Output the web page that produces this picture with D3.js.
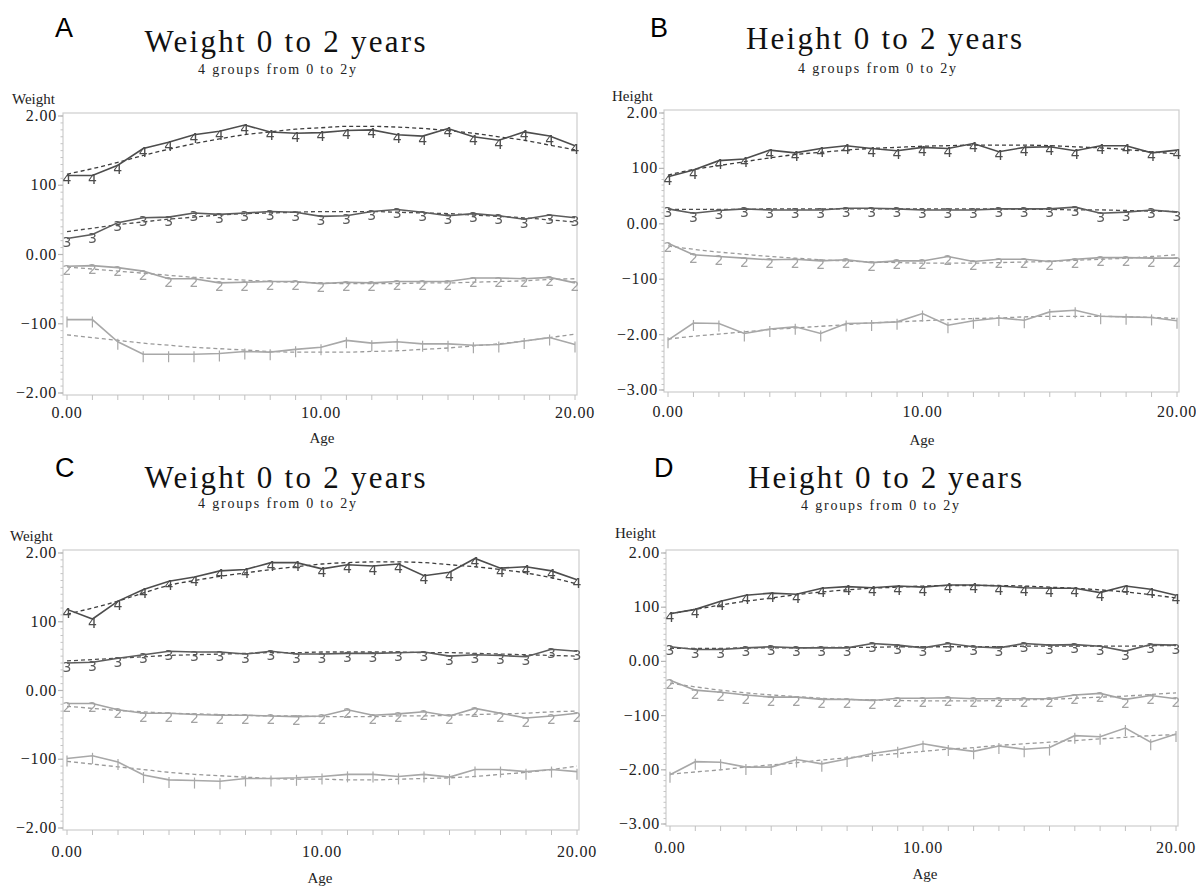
<!DOCTYPE html>
<html><head><meta charset="utf-8">
<script src="https://cdn.jsdelivr.net/npm/d3@7"></script>
<style>
body{margin:0;background:#fff}
svg{display:block}
.serif{font-family:"Liberation Serif","Times New Roman","DejaVu Serif","Noto Serif",serif}
.sans{font-family:"Liberation Sans",Arial,"DejaVu Sans",sans-serif}
.mk{font-family:"DejaVu Sans","Liberation Sans",sans-serif}
.aa{will-change:transform}
</style>
</head><body>
<svg id="chart" width="1196" height="886"></svg>
<script>
// ---- data ----
const ages = [0,1,2,3,4,5,6,7,8,9,10,11,12,13,14,15,16,17,18,19,20];
const xTickValues = [0,10,20];
const xTickLabels = ["0.00","10.00","20.00"];
const groupNames = ["4","3","2","1"];

// Panel A (weight)
const aObs4 = [1.14,1.14,1.29,1.53,1.62,1.73,1.78,1.87,1.77,1.75,1.76,1.79,1.80,1.73,1.71,1.82,1.70,1.65,1.77,1.71,1.57];
const aObs3 = [0.23,0.29,0.46,0.53,0.54,0.60,0.58,0.60,0.62,0.61,0.55,0.56,0.62,0.65,0.61,0.56,0.59,0.56,0.51,0.57,0.53];
const aObs2 = [-0.17,-0.16,-0.19,-0.24,-0.35,-0.35,-0.41,-0.40,-0.39,-0.39,-0.42,-0.40,-0.41,-0.39,-0.39,-0.39,-0.34,-0.34,-0.35,-0.33,-0.41];
const aObs1 = [-0.94,-0.94,-1.26,-1.44,-1.44,-1.44,-1.43,-1.40,-1.41,-1.37,-1.34,-1.24,-1.28,-1.26,-1.29,-1.29,-1.31,-1.30,-1.25,-1.20,-1.30];
const aFit4 = [1.16,1.24,1.33,1.43,1.52,1.60,1.67,1.73,1.77,1.81,1.83,1.85,1.85,1.84,1.82,1.79,1.75,1.70,1.65,1.58,1.51];
const aFit3 = [0.33,0.38,0.43,0.47,0.51,0.54,0.57,0.59,0.60,0.61,0.62,0.62,0.62,0.61,0.60,0.59,0.57,0.55,0.53,0.50,0.47];
const aFit2 = [-0.18,-0.21,-0.24,-0.27,-0.30,-0.33,-0.35,-0.37,-0.39,-0.40,-0.41,-0.42,-0.42,-0.42,-0.41,-0.41,-0.40,-0.39,-0.38,-0.36,-0.35];
const aFit1 = [-1.16,-1.20,-1.24,-1.28,-1.31,-1.34,-1.36,-1.38,-1.40,-1.41,-1.41,-1.41,-1.40,-1.39,-1.37,-1.35,-1.32,-1.29,-1.25,-1.20,-1.15];

// Panel B (height)
const bObs4 = [0.85,0.97,1.14,1.17,1.33,1.28,1.36,1.41,1.36,1.32,1.38,1.36,1.45,1.30,1.38,1.39,1.32,1.41,1.41,1.28,1.33];
const bObs3 = [0.27,0.19,0.24,0.27,0.25,0.25,0.25,0.28,0.28,0.27,0.25,0.25,0.25,0.27,0.27,0.27,0.30,0.19,0.21,0.25,0.21];
const bObs2 = [-0.35,-0.56,-0.59,-0.62,-0.65,-0.64,-0.67,-0.65,-0.70,-0.67,-0.67,-0.59,-0.68,-0.64,-0.64,-0.68,-0.64,-0.61,-0.61,-0.62,-0.62];
const bObs1 = [-2.10,-1.79,-1.80,-1.98,-1.90,-1.86,-1.98,-1.80,-1.79,-1.77,-1.62,-1.83,-1.75,-1.70,-1.74,-1.59,-1.56,-1.67,-1.68,-1.69,-1.75];
const bFit4 = [0.88,0.98,1.05,1.12,1.19,1.25,1.29,1.33,1.36,1.38,1.40,1.41,1.42,1.42,1.42,1.41,1.39,1.37,1.34,1.30,1.26];
const bFit3 = [0.26,0.26,0.26,0.26,0.27,0.27,0.27,0.27,0.27,0.27,0.27,0.27,0.27,0.27,0.26,0.26,0.25,0.25,0.24,0.23,0.22];
const bFit2 = [-0.40,-0.46,-0.51,-0.55,-0.59,-0.62,-0.65,-0.67,-0.69,-0.70,-0.71,-0.71,-0.71,-0.70,-0.69,-0.68,-0.66,-0.64,-0.62,-0.59,-0.56];
const bFit1 = [-2.08,-2.03,-1.99,-1.95,-1.91,-1.88,-1.85,-1.82,-1.79,-1.77,-1.75,-1.73,-1.71,-1.70,-1.68,-1.67,-1.67,-1.67,-1.68,-1.69,-1.71];

// Panel C (weight)
const cObs4 = [1.18,1.04,1.30,1.47,1.59,1.65,1.74,1.76,1.86,1.86,1.77,1.83,1.81,1.84,1.67,1.72,1.92,1.78,1.80,1.74,1.61];
const cObs3 = [0.40,0.41,0.47,0.52,0.57,0.56,0.56,0.53,0.57,0.53,0.53,0.54,0.54,0.55,0.56,0.50,0.52,0.51,0.49,0.60,0.57];
const cObs2 = [-0.19,-0.19,-0.28,-0.33,-0.33,-0.35,-0.36,-0.36,-0.37,-0.38,-0.37,-0.28,-0.36,-0.34,-0.31,-0.37,-0.26,-0.33,-0.40,-0.37,-0.33];
const cObs1 = [-0.99,-0.95,-1.04,-1.23,-1.30,-1.31,-1.32,-1.28,-1.28,-1.27,-1.25,-1.22,-1.22,-1.25,-1.22,-1.26,-1.15,-1.15,-1.18,-1.15,-1.18];
const cFit4 = [1.11,1.20,1.30,1.42,1.53,1.60,1.66,1.71,1.76,1.80,1.84,1.86,1.87,1.87,1.86,1.83,1.80,1.76,1.71,1.64,1.55];
const cFit3 = [0.43,0.45,0.47,0.49,0.51,0.52,0.53,0.54,0.55,0.55,0.56,0.56,0.56,0.56,0.55,0.55,0.54,0.53,0.52,0.51,0.50];
const cFit2 = [-0.23,-0.26,-0.29,-0.31,-0.33,-0.34,-0.35,-0.36,-0.37,-0.37,-0.38,-0.38,-0.38,-0.37,-0.37,-0.36,-0.35,-0.34,-0.33,-0.31,-0.30];
const cFit1 = [-1.03,-1.07,-1.11,-1.15,-1.19,-1.22,-1.24,-1.26,-1.28,-1.29,-1.29,-1.30,-1.30,-1.29,-1.28,-1.27,-1.25,-1.22,-1.19,-1.15,-1.10];

// Panel D (height)
const dObs4 = [0.88,0.96,1.11,1.22,1.26,1.24,1.35,1.38,1.36,1.39,1.37,1.41,1.41,1.39,1.36,1.35,1.35,1.27,1.39,1.33,1.22];
const dObs3 = [0.27,0.22,0.22,0.25,0.27,0.25,0.25,0.25,0.33,0.30,0.25,0.33,0.27,0.25,0.33,0.30,0.31,0.28,0.19,0.31,0.30];
const dObs2 = [-0.35,-0.53,-0.57,-0.62,-0.66,-0.66,-0.70,-0.70,-0.72,-0.68,-0.68,-0.67,-0.69,-0.69,-0.69,-0.69,-0.62,-0.59,-0.70,-0.63,-0.69];
const dObs1 = [-2.09,-1.85,-1.86,-1.95,-1.95,-1.81,-1.89,-1.80,-1.70,-1.63,-1.52,-1.60,-1.66,-1.56,-1.62,-1.59,-1.37,-1.39,-1.23,-1.49,-1.34];
const dFit4 = [0.88,0.96,1.04,1.11,1.17,1.23,1.28,1.32,1.35,1.37,1.39,1.40,1.40,1.40,1.39,1.37,1.35,1.32,1.28,1.23,1.17];
const dFit3 = [0.24,0.24,0.24,0.25,0.25,0.25,0.26,0.26,0.26,0.27,0.27,0.27,0.27,0.27,0.28,0.28,0.28,0.28,0.28,0.29,0.29];
const dFit2 = [-0.40,-0.47,-0.53,-0.58,-0.62,-0.65,-0.68,-0.70,-0.71,-0.72,-0.73,-0.73,-0.73,-0.72,-0.71,-0.70,-0.68,-0.66,-0.64,-0.61,-0.58];
const dFit1 = [-2.08,-2.04,-2.00,-1.95,-1.91,-1.87,-1.82,-1.78,-1.74,-1.70,-1.66,-1.62,-1.59,-1.55,-1.52,-1.49,-1.46,-1.43,-1.40,-1.37,-1.35];

// tick labels
const weightTicks = [2,1,0,-1,-2];
const weightTickLabels = ["2.00","100","0.00","\u2212100","\u22122.00"];
const heightTicks = [2,1,0,-1,-2,-3];
const heightTickLabels = ["2.00","100","0.00","\u2212100","\u22122.00","\u22123.00"];

// ---- layout / style ----
const panels = [
  {letter:"A", title:"Weight 0 to 2 years", sub:"4 groups from 0 to 2y", ylab:"Weight",
   ticks:weightTicks, tickLabels:weightTickLabels, dom:[-2,2],
   x0:67, x1:575, yTop:116, yBot:393, letterXY:[55,37], titleX:285, titleY:52, titleW:281, subX:277, subY:74, subW:158,
   ylabX:12, ylabY:104, xlabY:418, ageX:322, ageY:443,
   obs:[aObs4,aObs3,aObs2,aObs1], fit:[aFit4,aFit3,aFit2,aFit1]},
  {letter:"B", title:"Height 0 to 2 years", sub:"4 groups from 0 to 2y", ylab:"Height",
   ticks:heightTicks, tickLabels:heightTickLabels, dom:[-3,2],
   x0:668, x1:1177, yTop:113, yBot:390, letterXY:[650,37], titleX:884, titleY:49, titleW:276, subX:877, subY:73, subW:158,
   ylabX:612, ylabY:101, xlabY:417, ageX:922, ageY:445,
   obs:[bObs4,bObs3,bObs2,bObs1], fit:[bFit4,bFit3,bFit2,bFit1]},
  {letter:"C", title:"Weight 0 to 2 years", sub:"4 groups from 0 to 2y", ylab:"Weight",
   ticks:weightTicks, tickLabels:weightTickLabels, dom:[-2,2],
   x0:67, x1:577, yTop:553, yBot:828, letterXY:[55,477], titleX:285, titleY:488, titleW:281, subX:277, subY:508, subW:158,
   ylabX:10, ylabY:541, xlabY:857, ageX:320, ageY:883,
   obs:[cObs4,cObs3,cObs2,cObs1], fit:[cFit4,cFit3,cFit2,cFit1]},
  {letter:"D", title:"Height 0 to 2 years", sub:"4 groups from 0 to 2y", ylab:"Height",
   ticks:heightTicks, tickLabels:heightTickLabels, dom:[-3,2],
   x0:670, x1:1176, yTop:553, yBot:824, letterXY:[654,477], titleX:885, titleY:488, titleW:274, subX:880, subY:510, subW:158,
   ylabX:615, ylabY:538, xlabY:853, ageX:925, ageY:879,
   obs:[dObs4,dObs3,dObs2,dObs1], fit:[dFit4,dFit3,dFit2,dFit1]}
];
const lineColors = ["#4d4d4d","#5c5c5c","#a3a3a3","#a8a8a8"];
const fitColors  = ["#3d3d3d","#4d4d4d","#9a9a9a","#9a9a9a"];

const svg = d3.select("#chart");

panels.forEach(p => {
  const g = svg.append("g");
  const x = d3.scaleLinear().domain([0,20]).range([p.x0,p.x1]);
  const y = d3.scaleLinear().domain([p.dom[1],p.dom[0]]).range([p.yTop,p.yBot]);

  // letter
  g.append("text").attr("class","sans").attr("x",p.letterXY[0]).attr("y",p.letterXY[1]).text(p.letter)
    .attr("font-size",27).attr("fill","#000");
  // title & subtitle
  g.append("text").attr("class","serif").attr("x",p.titleX).attr("y",p.titleY).attr("text-anchor","middle").text(p.title)
    .attr("font-size",31).attr("fill","#111")
    .attr("textLength",p.titleW).attr("lengthAdjust","spacing");
  g.append("text").attr("class","serif").attr("x",p.subX).attr("y",p.subY).attr("text-anchor","middle").text(p.sub)
    .attr("font-size",14).attr("fill","#222")
    .attr("textLength",p.subW).attr("lengthAdjust","spacing");
  // y label
  g.append("text").attr("class","serif").attr("x",p.ylabX).attr("y",p.ylabY).text(p.ylab)
    .attr("font-size",15).attr("fill","#222");

  // frame
  const fl = p.x0-4, fr = p.x1+2, ft = p.yTop-3, fb = p.yBot+2;
  g.append("rect").attr("x",fl).attr("y",ft).attr("width",fr-fl).attr("height",fb-ft)
    .attr("fill","none").attr("stroke","#cdcdcd").attr("stroke-width",1.2);

  // minor y ticks
  const minor = d3.range(Math.round(p.dom[0]*10), Math.round(p.dom[1]*10)+1).map(v=>v/10);
  g.selectAll(".minor").data(minor).join("line")
    .attr("x1",fl-2.5).attr("x2",fl).attr("y1",d=>y(d)).attr("y2",d=>y(d))
    .attr("stroke","#c4c4c4").attr("stroke-width",1);
  // major y ticks + labels
  g.selectAll(".ymaj").data(p.ticks).join("line")
    .attr("x1",fl-5).attr("x2",fl).attr("y1",d=>y(d)).attr("y2",d=>y(d))
    .attr("stroke","#b5b5b5").attr("stroke-width",1.2);
  g.selectAll(".ylab").data(p.ticks).join("text").attr("class","serif")
    .attr("x",fl-6).attr("y",d=>y(d)+5).attr("text-anchor","end")
    .text((d,i)=>p.tickLabels[i])
    .attr("font-size",16).attr("fill","#222").attr("letter-spacing",0.8);

  // x ticks
  g.selectAll(".xt").data(ages).join("line")
    .attr("x1",d=>x(d)).attr("x2",d=>x(d)).attr("y1",fb).attr("y2",fb+5)
    .attr("stroke","#c0c0c0").attr("stroke-width",1);
  g.selectAll(".xl").data(xTickValues).join("text").attr("class","serif")
    .attr("x",d=>x(d)).attr("y",p.xlabY).attr("text-anchor","middle")
    .text((d,i)=>xTickLabels[i])
    .attr("font-size",16).attr("fill","#222").attr("letter-spacing",0.8);
  g.append("text").attr("class","serif").attr("x",p.ageX).attr("y",p.ageY).attr("text-anchor","middle").text("Age")
    .attr("font-size",15).attr("fill","#222");

  const line = d3.line().x((d,i)=>x(ages[i])).y(d=>y(d));
  const smooth = d3.line().x((d,i)=>x(ages[i])).y(d=>y(d)).curve(d3.curveMonotoneX);

  // fitted dashed
  p.fit.forEach((s,k)=>{
    g.append("path").attr("d",smooth(s)).attr("fill","none")
      .attr("stroke",fitColors[k]).attr("stroke-width",1.3).attr("stroke-dasharray","4,3");
  });
  // observed solid
  p.obs.forEach((s,k)=>{
    g.append("path").attr("d",line(s)).attr("fill","none")
      .attr("stroke",lineColors[k]).attr("stroke-width",1.6);
    const mg = g.append("g").attr("class","aa");
    if (groupNames[k] === "1") {
      mg.selectAll("line").data(s).join("line")
        .attr("x1",(d,i)=>x(ages[i])).attr("x2",(d,i)=>x(ages[i]))
        .attr("y1",d=>y(d)-3).attr("y2",d=>y(d)+8)
        .attr("stroke",lineColors[k]).attr("stroke-width",1.2);
    } else {
      mg.selectAll("text").data(s).join("text").attr("class","mk")
        .attr("x",(d,i)=>x(ages[i])).attr("y",d=>y(d)+8.5).attr("text-anchor","middle")
        .text(groupNames[k])
        .attr("font-size",14).attr("fill",lineColors[k]);
    }
  });
});
</script>
</body></html>
